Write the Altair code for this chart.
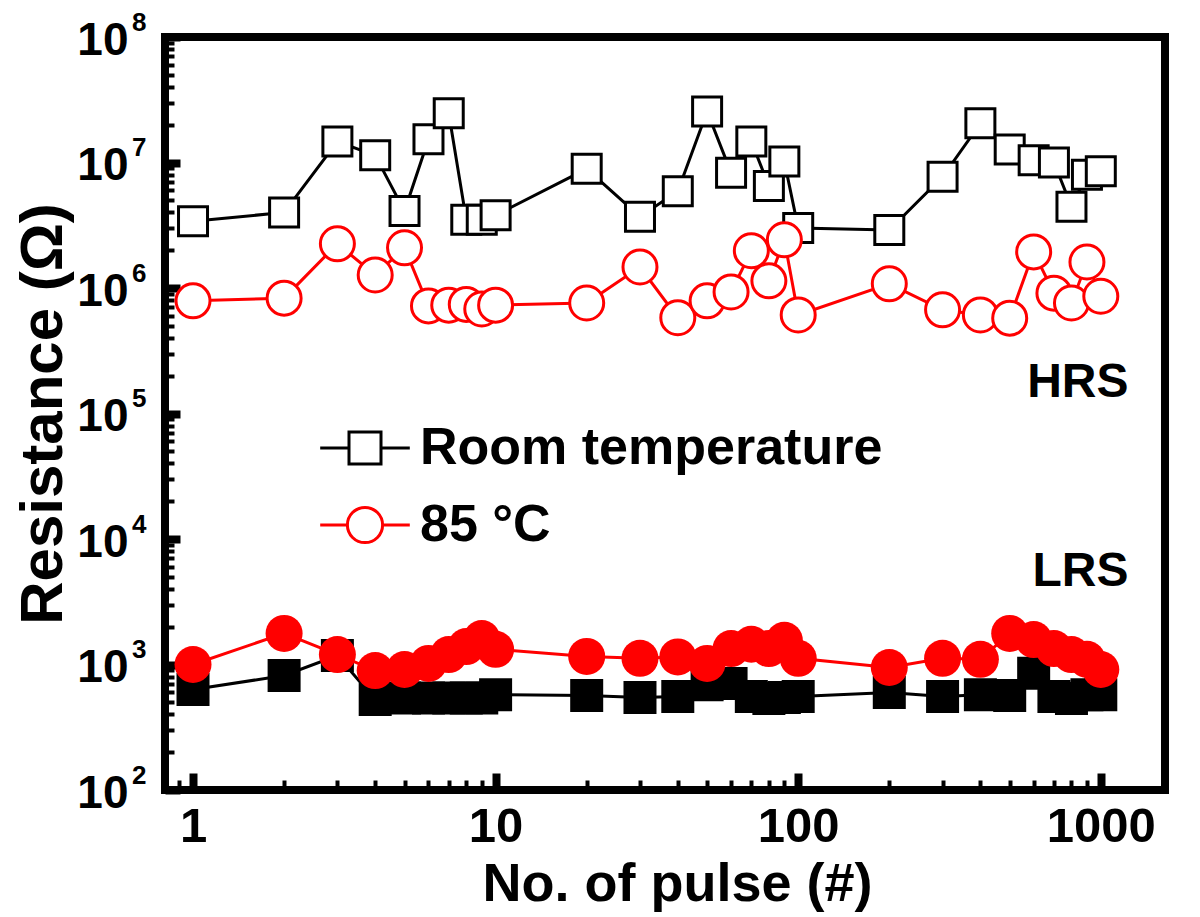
import altair as alt
import pandas as pd

# ---------------- data ----------------
pulses = [1, 2, 3, 4, 5, 6, 7, 8, 9, 10, 20, 30, 40, 50, 60, 70, 80, 90, 100,
          200, 300, 400, 500, 600, 700, 800, 900, 1000]

rt_hrs = [3.4e6, 4.0e6, 1.47e7, 1.14e7, 4.1e6, 1.53e7, 2.47e7, 3.5e6, 3.5e6, 3.8e6,
          8.9e6, 3.7e6, 5.9e6, 2.55e7, 8.3e6, 1.47e7, 6.5e6, 1.02e7, 3.0e6,
          2.9e6, 7.7e6, 2.05e7, 1.27e7, 1.04e7, 1.0e7, 4.45e6, 8.0e6, 8.5e6]

rt_lrs = [631, 817, 1180, 525, 540, 540, 540, 540, 540, 575,
          565, 545, 555, 690, 705, 555, 537, 547, 555,
          597, 555, 575, 565, 850, 555, 537, 575, 575]

ht_hrs = [7.9e5, 8.3e5, 2.25e6, 1.27e6, 2.09e6, 7.2e5, 7.3e5, 7.4e5, 6.8e5, 7.3e5,
          7.6e5, 1.47e6, 5.8e5, 7.9e5, 9.3e5, 1.98e6, 1.14e6, 2.42e6, 6.1e5,
          1.08e6, 6.7e5, 6.1e5, 5.75e5, 1.94e6, 9.1e5, 7.6e5, 1.61e6, 8.6e5]

ht_lrs = [1000, 1770, 1200, 895, 912, 1020, 1200, 1390, 1610, 1320,
          1160, 1120, 1150, 1020, 1340, 1450, 1340, 1560, 1120,
          946, 1120, 1100, 1770, 1580, 1340, 1200, 1100, 912]

series_names = ["Room temperature", "85 °C"]
series_colors = ["#000000", "#ff0000"]

ann_text = ["HRS", "LRS"]
ann_x = [1235, 1235]
ann_y = [1.75e5, 5.5e3]

x_major = [1, 10, 100, 1000]
y_major = [1e2, 1e3, 1e4, 1e5, 1e6, 1e7, 1e8]
x_ticks = [0.9, 1, 2, 3, 4, 5, 6, 7, 8, 9, 10, 20, 30, 40, 50, 60, 70, 80, 90,
           100, 200, 300, 400, 500, 600, 700, 800, 900, 1000]
y_ticks = [m * 10 ** k for k in range(2, 8) for m in range(1, 10)] + [1e8]

# ---------------- tables ----------------
rows = []
for p, a, b, c, d in zip(pulses, rt_hrs, rt_lrs, ht_hrs, ht_lrs):
    rows.append(dict(pulse=p, R=a, series=series_names[0], state="HRS"))
    rows.append(dict(pulse=p, R=b, series=series_names[0], state="LRS"))
    rows.append(dict(pulse=p, R=c, series=series_names[1], state="HRS"))
    rows.append(dict(pulse=p, R=d, series=series_names[1], state="LRS"))
df = pd.DataFrame(rows)
ann = pd.DataFrame(dict(pulse=ann_x, R=ann_y, text=ann_text))

F = "Liberation Sans, Arial, Helvetica, sans-serif"
W, H = 1000, 753

xs = alt.Scale(type="log", domain=[0.808, 1630], nice=False)
ys = alt.Scale(type="log", domain=[100, 1e8], nice=False)

x_main = alt.X("pulse:Q", scale=xs, axis=alt.Axis(
    orient="bottom", values=x_major, format="d", ticks=False, domain=False, grid=False,
    labelFont=F, labelFontSize=49, labelFontWeight="bold", labelColor="black",
    labelPadding=12, labelFlush=False, labelOverlap=False,
    title="No. of pulse (#)", titleFont=F, titleFontSize=54, titleFontWeight="bold",
    titleColor="black", titlePadding=6, titleX=512))
y_main = alt.Y("R:Q", scale=ys, axis=alt.Axis(
    orient="left", values=y_major, ticks=False, domain=False, grid=False,
    labelExpr="'10'",
    labelFont=F, labelFontSize=46, labelFontWeight="bold", labelColor="black",
    labelPadding=37, labelFlush=False, labelOverlap=False, labelBaseline="middle",
    labelOffset=3,
    title="Resistance (Ω)", titleFont=F, titleFontSize=60, titleFontWeight="bold",
    titleColor="black", titlePadding=2))

# exponents of the y labels, as a second left axis
y_exp = alt.Y("R:Q", scale=ys, axis=alt.Axis(
    orient="left", values=y_major, ticks=False, domain=False, grid=False,
    labelExpr="'' + round(log(datum.value)/LN10)",
    labelFont=F, labelFontSize=26, labelFontWeight="bold", labelColor="black",
    labelPadding=19, labelFlush=False, labelOverlap=False, labelBaseline="middle",
    labelOffset=-15, title=None))

major_test = "abs(log(datum.value)/LN10 - round(log(datum.value)/LN10)) < 1e-6"
x_tick_enc = alt.X("pulse:Q", scale=xs, axis=alt.Axis(
    orient="top", offset=-H, values=x_ticks, labels=False, title=None, domain=False,
    grid=False, ticks=True, tickColor="black",
    tickSize={"condition": {"test": major_test, "value": 17}, "value": 10},
    tickWidth={"condition": {"test": major_test, "value": 8}, "value": 4}))
y_tick_enc = alt.Y("R:Q", scale=ys, axis=alt.Axis(
    orient="right", offset=-W, values=y_ticks, labels=False, title=None, domain=False,
    grid=False, ticks=True, tickColor="black",
    tickSize={"condition": {"test": major_test, "value": 15}, "value": 9},
    tickWidth={"condition": {"test": major_test, "value": 8}, "value": 4}))

base = alt.Chart(df)


def series_layers(name, color, shape, hollow_size, filled_size):
    sub = base.transform_filter(alt.datum.series == name)
    line = sub.mark_line(color=color, strokeWidth=3).encode(
        x=x_main, y=y_main, detail="state:N")
    hollow = sub.transform_filter(alt.datum.state == "HRS").mark_point(
        shape=shape, filled=True, fill="white", stroke=color, strokeWidth=3,
        opacity=1, size=hollow_size).encode(x=x_main, y=y_main)
    solid = sub.transform_filter(alt.datum.state == "LRS").mark_point(
        shape=shape, filled=True, fill=color, stroke=color, strokeWidth=0,
        opacity=1, size=filled_size).encode(x=x_main, y=y_main)
    return [line, hollow, solid]


texts = alt.Chart(ann).mark_text(
    font=F, fontSize=48, fontWeight="bold", color="black", align="right",
    baseline="middle").encode(x=x_main, y=y_main, text="text:N")

main = alt.layer(
    *series_layers(series_names[0], series_colors[0], "square", 841, 1089),
    *series_layers(series_names[1], series_colors[1], "circle", 1156, 1369),
    texts,
)

legend_paths = [
    "M-2.8,0H-1M1,0H2.8M-1,-1H1V1H-1Z",
    "M-2.8,0H-1.1M1.1,0H2.8M-1.1,0A1.1,1.1 0 1,0 1.1,0A1.1,1.1 0 1,0 -1.1,0Z",
]
leg = alt.Legend(orient="none", legendX=174, legendY=385, title=None,
                 labelFont=F, labelFontSize=52, labelFontWeight="bold",
                 labelColor="black", labelLimit=2000, symbolSize=1024,
                 symbolStrokeWidth=3, labelOffset=29, rowPadding=25, padding=0)

ticks_and_legend = base.transform_filter("false").mark_point(
    filled=False, strokeWidth=3, opacity=1).encode(
    x=x_tick_enc, y=y_tick_enc,
    color=alt.Color("series:N", scale=alt.Scale(domain=series_names, range=series_colors),
                    legend=leg, sort=series_names),
    shape=alt.Shape("series:N", scale=alt.Scale(domain=series_names, range=legend_paths),
                    legend=leg, sort=series_names),
)

exponents = base.transform_filter("false").mark_point(opacity=0).encode(y=y_exp)

chart = alt.layer(main, ticks_and_legend, exponents).resolve_axis(
    x="independent", y="independent"
).properties(
    width=W, height=H,
    autosize=alt.AutoSizeParams(type="none"),
    padding={"left": 157, "top": 29, "right": 27, "bottom": 124},
    background="white",
).configure_view(stroke="black", strokeWidth=8)

chart.save("out.html", embed_options={"renderer": "svg", "actions": False})
